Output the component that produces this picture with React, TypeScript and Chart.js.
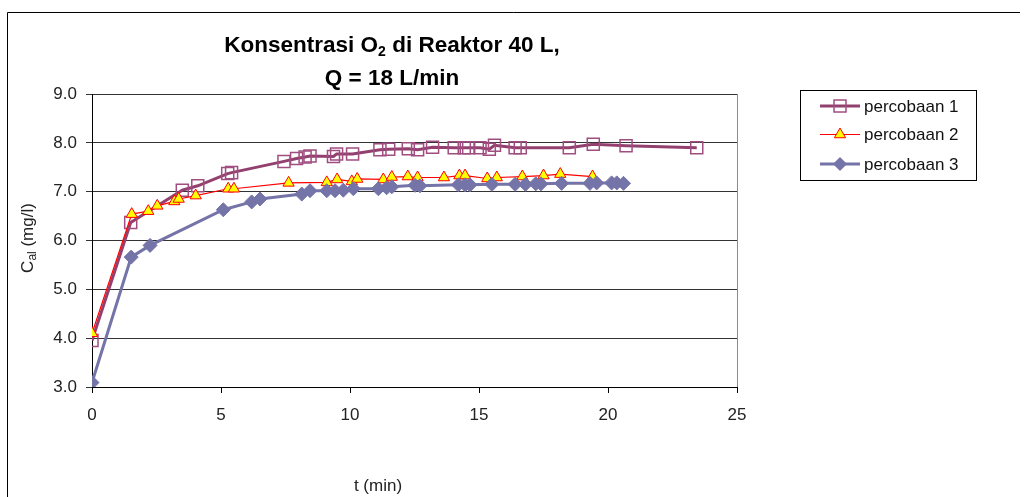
import React, { useEffect, useRef } from 'react';
import { Chart, registerables } from 'chart.js';

Chart.register(...registerables);

const FONT = "'Liberation Sans', Arial, Helvetica, sans-serif";

// Waktu (menit) dan konsentrasi O2 (mg/l) tiap percobaan
const t1 = [0, 1.5, 3.5, 4.1, 5.26, 5.41, 7.44, 7.93, 8.26, 8.45, 9.36, 9.48, 10.1, 11.16, 11.5, 12.26, 12.62, 13.2, 14.04, 14.43, 14.6, 15.04, 15.4, 15.6, 16.4, 16.6, 18.5, 19.43, 20.7, 23.44];
const c1 = [3.95, 6.37, 7.03, 7.12, 7.37, 7.39, 7.62, 7.68, 7.71, 7.73, 7.72, 7.77, 7.77, 7.86, 7.87, 7.88, 7.86, 7.91, 7.9, 7.9, 7.9, 7.9, 7.87, 7.95, 7.9, 7.9, 7.9, 7.97, 7.94, 7.9];

const t2 = [0, 1.54, 2.18, 2.53, 3.19, 3.36, 4.02, 5.28, 5.5, 7.62, 9.1, 9.5, 10.07, 10.28, 11.29, 11.62, 12.24, 12.62, 13.64, 14.24, 14.46, 15.32, 15.69, 16.68, 17.5, 18.15, 19.4];
const c2 = [4.1, 6.54, 6.6, 6.71, 6.8, 6.85, 6.92, 7.06, 7.06, 7.18, 7.19, 7.25, 7.21, 7.26, 7.25, 7.3, 7.31, 7.29, 7.29, 7.33, 7.33, 7.27, 7.29, 7.31, 7.33, 7.36, 7.31];

const t3 = [0, 1.52, 2.25, 5.09, 6.19, 6.51, 8.13, 8.45, 9.1, 9.42, 9.74, 10.13, 11.1, 11.42, 11.62, 12.52, 12.71, 14.2, 14.46, 14.65, 15.5, 16.4, 16.8, 17.2, 17.4, 18.2, 19.3, 19.56, 20.14, 20.34, 20.6];
const c3 = [3.09, 5.66, 5.9, 6.63, 6.79, 6.85, 6.95, 7.02, 7.02, 7.02, 7.03, 7.06, 7.06, 7.08, 7.1, 7.13, 7.12, 7.14, 7.14, 7.14, 7.15, 7.15, 7.15, 7.16, 7.16, 7.17, 7.17, 7.18, 7.18, 7.18, 7.17];

const seriesLabels = ['percobaan 1', 'percobaan 2', 'percobaan 3'];
const xTicks = [0, 5, 10, 15, 20, 25];
const yTicks = [3, 4, 5, 6, 7, 8, 9];

const COL1_LINE = '#93406F';
const COL1_MARK = '#A04E80';
const COL2 = '#FF0000';
const COL2_FILL = '#FFFF00';
const COL3 = '#7474A8';

const toPoints = (xs: number[], ys: number[]) => xs.map((x, i) => ({ x, y: ys[i] }));

function drawSquare(ctx: CanvasRenderingContext2D, x: number, y: number) {
  ctx.strokeStyle = COL1_MARK;
  ctx.lineWidth = 1.5;
  ctx.strokeRect(x - 6, y - 6, 12, 12);
}
function drawTriangle(ctx: CanvasRenderingContext2D, x: number, y: number, r: number) {
  ctx.beginPath();
  for (let k = 0; k < 3; k++) {
    const a = (k * 2 * Math.PI) / 3;
    const px = x + Math.sin(a) * r;
    const py = y - Math.cos(a) * r;
    if (k === 0) ctx.moveTo(px, py);
    else ctx.lineTo(px, py);
  }
  ctx.closePath();
  ctx.fillStyle = COL2_FILL;
  ctx.fill();
  ctx.strokeStyle = COL2;
  ctx.lineWidth = 1;
  ctx.stroke();
}
function drawDiamond(ctx: CanvasRenderingContext2D, x: number, y: number, r: number) {
  ctx.beginPath();
  ctx.moveTo(x, y - r);
  ctx.lineTo(x + r, y);
  ctx.lineTo(x, y + r);
  ctx.lineTo(x - r, y);
  ctx.closePath();
  ctx.fillStyle = COL3;
  ctx.fill();
}

const decor = {
  id: 'decor',
  beforeDraw(chart: any) {
    const ctx: CanvasRenderingContext2D = chart.ctx;
    ctx.save();
    ctx.fillStyle = '#ffffff';
    ctx.fillRect(0, 0, chart.width, chart.height);
    // outer frame of the chart object
    ctx.strokeStyle = '#000';
    ctx.lineWidth = 1;
    ctx.beginPath();
    ctx.moveTo(7.5, chart.height);
    ctx.lineTo(7.5, 12.5);
    ctx.lineTo(1020, 12.5);
    ctx.stroke();
    ctx.restore();
  },
  afterDraw(chart: any) {
    const ctx: CanvasRenderingContext2D = chart.ctx;
    const area = chart.chartArea;
    ctx.save();

    // right edge of the plot area
    ctx.strokeStyle = '#8c8c8c';
    ctx.lineWidth = 1;
    ctx.beginPath();
    ctx.moveTo(Math.round(area.right) + 0.5, area.top);
    ctx.lineTo(Math.round(area.right) + 0.5, area.bottom);
    ctx.stroke();

    // title, two lines, with subscript 2
    ctx.fillStyle = '#000';
    ctx.textBaseline = 'alphabetic';
    ctx.textAlign = 'left';
    const cx = 392;
    const big = `bold 22.5px ${FONT}`;
    const small = `bold 14px ${FONT}`;
    const a = 'Konsentrasi O';
    const b = '2';
    const c = ' di Reaktor 40 L,';
    ctx.font = big;
    const wa = ctx.measureText(a).width;
    const wc = ctx.measureText(c).width;
    ctx.font = small;
    const wb = ctx.measureText(b).width;
    const x0 = cx - (wa + wb + wc) / 2;
    ctx.font = big;
    ctx.fillText(a, x0, 52);
    ctx.font = small;
    ctx.fillText(b, x0 + wa, 56);
    ctx.font = big;
    ctx.fillText(c, x0 + wa + wb, 52);
    ctx.textAlign = 'center';
    ctx.fillText('Q = 18 L/min', cx, 85);

    // y axis title with subscript
    ctx.save();
    ctx.translate(33, 238);
    ctx.rotate(-Math.PI / 2);
    const yBig = `17px ${FONT}`;
    const ySmall = `12px ${FONT}`;
    const ya = 'C';
    const yb = 'al';
    const yc = ' (mg/l)';
    ctx.font = yBig;
    const ywa = ctx.measureText(ya).width;
    const ywc = ctx.measureText(yc).width;
    ctx.font = ySmall;
    const ywb = ctx.measureText(yb).width;
    const yx0 = -(ywa + ywb + ywc) / 2;
    ctx.textAlign = 'left';
    ctx.fillStyle = '#222';
    ctx.font = yBig;
    ctx.fillText(ya, yx0, 0);
    ctx.font = ySmall;
    ctx.fillText(yb, yx0 + ywa, 3);
    ctx.font = yBig;
    ctx.fillText(yc, yx0 + ywa + ywb, 0);
    ctx.restore();

    // x axis title
    ctx.fillStyle = '#222';
    ctx.font = `17px ${FONT}`;
    ctx.textAlign = 'center';
    ctx.fillText('t (min)', 378, 491);

    // legend
    ctx.fillStyle = '#fff';
    ctx.fillRect(800.5, 90.5, 176, 90);
    ctx.strokeStyle = '#000';
    ctx.lineWidth = 1;
    ctx.strokeRect(800.5, 90.5, 176, 90);
    const rows = [106, 134.5, 164];
    const lineCols = [COL1_LINE, COL2, COL3];
    const lineW = [3, 1.2, 3];
    rows.forEach((ry, i) => {
      ctx.strokeStyle = lineCols[i];
      ctx.lineWidth = lineW[i];
      ctx.beginPath();
      ctx.moveTo(820, ry);
      ctx.lineTo(860, ry);
      ctx.stroke();
      if (i === 0) drawSquare(ctx, 840, ry);
      if (i === 1) drawTriangle(ctx, 840, ry, 6.5);
      if (i === 2) drawDiamond(ctx, 840, ry, 7);
      ctx.fillStyle = '#111';
      ctx.font = `17px ${FONT}`;
      ctx.textAlign = 'left';
      ctx.textBaseline = 'middle';
      ctx.fillText(seriesLabels[i], 864, ry + 1);
    });
    ctx.restore();
  },
};

export default function App() {
  const ref = useRef<HTMLCanvasElement>(null);

  useEffect(() => {
    if (!ref.current) return;
    const chart = new Chart(ref.current, {
      type: 'scatter',
      data: {
        datasets: [
          {
            label: seriesLabels[0],
            data: toPoints(t1, c1),
            showLine: true,
            borderColor: COL1_LINE,
            borderWidth: 3,
            pointStyle: 'rect',
            pointRadius: 8.5,
            pointBorderColor: COL1_MARK,
            pointBorderWidth: 1.5,
            pointBackgroundColor: 'rgba(0,0,0,0)',
            order: 3,
          },
          {
            label: seriesLabels[1],
            data: toPoints(t2, c2),
            showLine: true,
            borderColor: COL2,
            borderWidth: 1.2,
            pointStyle: 'triangle',
            pointRadius: 6.5,
            pointBorderColor: COL2,
            pointBorderWidth: 1,
            pointBackgroundColor: COL2_FILL,
            order: 2,
          },
          {
            label: seriesLabels[2],
            data: toPoints(t3, c3),
            showLine: true,
            borderColor: COL3,
            borderWidth: 3,
            pointStyle: 'rectRot',
            pointRadius: 7,
            pointBorderColor: COL3,
            pointBorderWidth: 1,
            pointBackgroundColor: COL3,
            order: 1,
          },
        ],
      },
      options: {
        responsive: false,
        animation: false,
        devicePixelRatio: 1,
        layout: { padding: { left: 0, right: 297, top: 94, bottom: 0 } },
        plugins: {
          legend: { display: false },
          title: { display: false },
          tooltip: { enabled: false },
        },
        scales: {
          x: {
            type: 'linear',
            min: 0,
            max: 25,
            afterFit: (s: any) => {
              s.height = 110;
            },
            afterBuildTicks: (s: any) => {
              s.ticks = xTicks.map((v) => ({ value: v }));
            },
            ticks: {
              color: '#222',
              font: { family: FONT, size: 17 },
              padding: 12,
              maxRotation: 0,
            },
            grid: { drawOnChartArea: false, tickLength: 6, color: '#000' },
            border: { color: '#000', width: 1 },
          },
          y: {
            min: 3,
            max: 9,
            afterFit: (s: any) => {
              s.width = 92;
            },
            afterBuildTicks: (s: any) => {
              s.ticks = yTicks.map((v) => ({ value: v }));
            },
            ticks: {
              color: '#222',
              font: { family: FONT, size: 17 },
              padding: 9,
              callback: (v: any) => Number(v).toFixed(1),
            },
            grid: { color: '#333', tickLength: 6, lineWidth: 1 },
            border: { color: '#000', width: 1 },
          },
        },
      },
      plugins: [decor],
    });
    return () => chart.destroy();
  }, []);

  return (
    <div style={{ position: 'fixed', left: 0, top: 0, width: 1034, height: 497, background: '#fff' }}>
      <canvas ref={ref} width={1034} height={497} style={{ display: 'block', width: 1034, height: 497 }} />
    </div>
  );
}
